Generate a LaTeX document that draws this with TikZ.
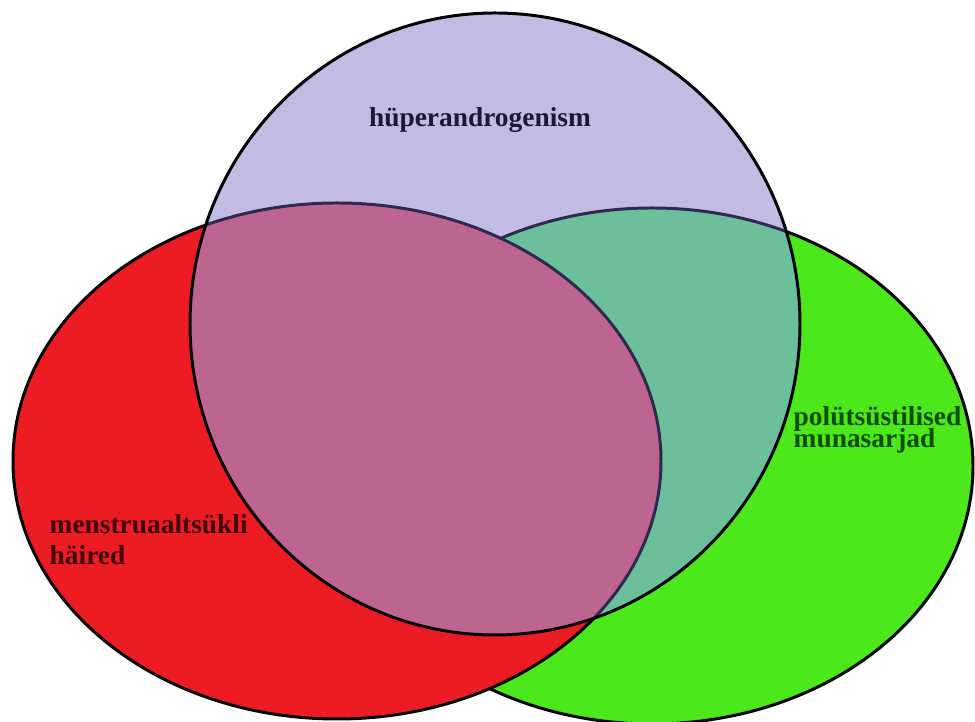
\documentclass[tikz,border=0pt]{standalone}
\usepackage{fontspec}
\setmainfont{Liberation Serif}
\newfontfamily\vennfont{Liberation Serif}
\newcommand{\vennlabelfont}{\vennfont\bfseries\fontsize{7.8}{9.1}\selectfont\lineskiplimit=-10pt\relax}
\newcommand{\venntightfont}{\vennfont\bfseries\fontsize{7.8}{6.4}\selectfont\lineskiplimit=-10pt\relax}
\usepackage{xcolor}
\usepackage{tikz}
\usetikzlibrary{positioning}
\definecolor{SetRed}{HTML}{ED1C24}
\definecolor{SetGreen}{HTML}{4DE819}
\definecolor{SetLilac}{HTML}{C3BBE3}
\definecolor{MixPink}{HTML}{BD6590}
\definecolor{MixTeal}{HTML}{6BBF9B}
\definecolor{EdgeNavy}{HTML}{2E2A4F}
\definecolor{TextNavy}{HTML}{1B1934}
\definecolor{TextGreen}{HTML}{0F4D10}
\definecolor{TextMaroon}{HTML}{3F0A0A}

\begin{document}
\begin{tikzpicture}[
            setline/.style={draw=black, line width=0.85pt},
            innerline/.style={draw=EdgeNavy, line width=0.85pt},
            setlabel/.style={inner sep=0pt, align=left, font=\vennlabelfont}
        ]
            \useasboundingbox (0,0) rectangle (9.75,7.22);
            \fill[white] (0,0) rectangle (9.75,7.22);

            \coordinate (lilac) at (4.95,3.98);
            \coordinate (red) at (3.37,2.61);
            \coordinate (green) at (6.52,2.56);

            \path[setline, fill=SetGreen] (green) ellipse [x radius=3.21, y radius=2.58];
            \path[setline, fill=SetRed] (red) ellipse [x radius=3.24, y radius=2.58];
            \fill[SetLilac] (lilac) ellipse [x radius=3.05, y radius=3.11];
            \begin{scope}
                \clip (lilac) ellipse [x radius=3.05, y radius=3.11];
                \path[innerline, fill=MixTeal] (green) ellipse [x radius=3.21, y radius=2.58];
                \path[innerline, fill=MixPink] (red) ellipse [x radius=3.24, y radius=2.58];
            \end{scope}
            \draw[setline] (lilac) ellipse [x radius=3.05, y radius=3.11];

            \node[setlabel, text=TextNavy, anchor=base] at (4.80, 5.95) (hyper) {hüperandrogenism};
            \node[setlabel, text=TextGreen, anchor=base west, font=\venntightfont] at (7.93, 2.74) (ovary) {polütsüstilised\\munasarjad};
            \node[setlabel, text=TextMaroon, anchor=base west] at (0.49, 1.57) (cycle) {menstruaaltsükli\\häired};

        \end{tikzpicture}
\end{document}
